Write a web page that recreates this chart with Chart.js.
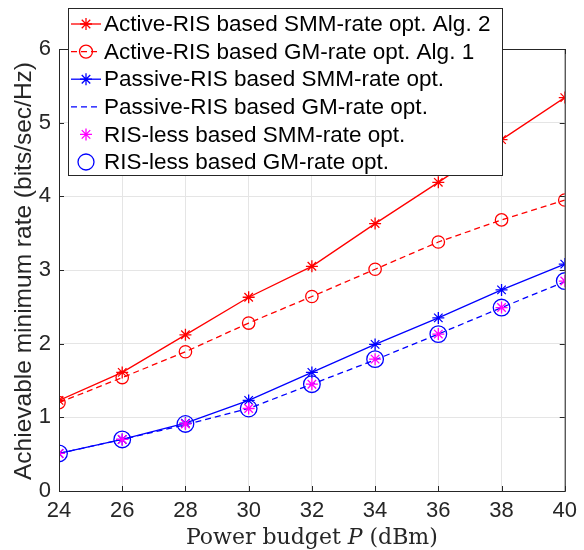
<!DOCTYPE html>
<html>
<head>
<meta charset="utf-8">
<script src="https://cdn.jsdelivr.net/npm/chart.js@4"></script>
<style>
  html, body { margin: 0; padding: 0; background: #fff; }
  #wrap { position: relative; width: 584px; height: 550px; }
</style>
</head>
<body>
<div id="wrap"><canvas id="chart" width="584" height="550"></canvas></div>
<script>
// power budget P (dBm)
const powerDbm = [24, 26, 28, 30, 32, 34, 36, 38, 40];
// achievable minimum rate (bits/sec/Hz)
const activeSmm  = [1.23, 1.61, 2.12, 2.63, 3.05, 3.63, 4.19, 4.77, 5.34];
const activeGm   = [1.20, 1.54, 1.89, 2.28, 2.64, 3.01, 3.38, 3.68, 3.95];
const passiveSmm = [0.51, 0.70, 0.92, 1.23, 1.61, 1.99, 2.35, 2.73, 3.08];
const passiveGm  = [0.51, 0.70, 0.90, 1.12, 1.45, 1.78, 2.13, 2.49, 2.84];
const rislessSmm = [0.51, 0.70, 0.91, 1.12, 1.45, 1.79, 2.13, 2.49, 2.85];
const rislessGm  = [0.51, 0.70, 0.91, 1.12, 1.45, 1.79, 2.13, 2.49, 2.85];
const labels = [
  'Active-RIS based SMM-rate opt. Alg. 2',
  'Active-RIS based GM-rate opt. Alg. 1',
  'Passive-RIS based SMM-rate opt.',
  'Passive-RIS based GM-rate opt.',
  'RIS-less based SMM-rate opt.',
  'RIS-less based GM-rate opt.'
];
const xTicks = [24, 26, 28, 30, 32, 34, 36, 38, 40];
const yTicks = [0, 1, 2, 3, 4, 5, 6];

const RED = '#ff0000', BLUE = '#0000ff', MAG = '#ff00ff';
const DASH = [6, 4];
const SANS = '"Liberation Sans", Arial, sans-serif';
const SERIF = '"DejaVu Serif", serif';
const pts = ys => ys.map((y, i) => ({ x: powerDbm[i], y }));

// legend rows carry their own style so the canvas legend can reuse it
const series = [
  { data: activeSmm,  color: RED,  dash: [],   line: true,  marker: 'star',   r: 6,   lr: 6 },
  { data: activeGm,   color: RED,  dash: DASH, line: true,  marker: 'circle', r: 6.2, lr: 6.5 },
  { data: passiveSmm, color: BLUE, dash: [],   line: true,  marker: 'star',   r: 6,   lr: 6 },
  { data: passiveGm,  color: BLUE, dash: DASH, line: true,  marker: null,     r: 0,   lr: 0 },
  { data: rislessSmm, color: MAG,  dash: [],   line: false, marker: 'star',   r: 6,   lr: 6 },
  { data: rislessGm,  color: BLUE, dash: [],   line: false, marker: 'circle', r: 8.3, lr: 8 }
];

const datasets = series.map((s, i) => ({
  label: labels[i],
  data: pts(s.data),
  borderColor: s.color,
  backgroundColor: 'rgba(0,0,0,0)',
  borderWidth: 1.3,
  borderDash: s.dash,
  showLine: s.line,
  pointStyle: s.marker || 'circle',
  pointRadius: s.r,
  pointBorderColor: s.color,
  pointBackgroundColor: 'rgba(0,0,0,0)',
  pointBorderWidth: 1.3,
  tension: 0,
  order: [6, 5, 4, 3, 1, 2][i]
}));

function drawMarker(ctx, type, x, y, r, color){
  ctx.save();
  ctx.strokeStyle = color; ctx.lineWidth = 1.3; ctx.setLineDash([]);
  ctx.beginPath();
  if(type === 'circle'){
    ctx.arc(x, y, r, 0, Math.PI * 2);
  } else if(type === 'star'){
    for(let k = 0; k < 4; k++){
      const a = k * Math.PI / 4;
      ctx.moveTo(x - r * Math.cos(a), y - r * Math.sin(a));
      ctx.lineTo(x + r * Math.cos(a), y + r * Math.sin(a));
    }
  }
  ctx.stroke();
  ctx.restore();
}

const frame = {
  id: 'frame',
  afterDatasetsDraw(chart){
    const { ctx, chartArea: a, scales } = chart;
    ctx.save();
    // axes box with inward ticks
    ctx.strokeStyle = '#262626'; ctx.lineWidth = 1;
    ctx.strokeRect(a.left + 0.5, a.top + 0.5, a.right - a.left, a.bottom - a.top);
    ctx.beginPath();
    xTicks.forEach(v => {
      const x = Math.round(scales.x.getPixelForValue(v)) + 0.5;
      ctx.moveTo(x, a.bottom); ctx.lineTo(x, a.bottom - 5);
      ctx.moveTo(x, a.top); ctx.lineTo(x, a.top + 5);
    });
    yTicks.forEach(v => {
      const y = Math.round(scales.y.getPixelForValue(v)) + 0.5;
      ctx.moveTo(a.left, y); ctx.lineTo(a.left + 5, y);
      ctx.moveTo(a.right, y); ctx.lineTo(a.right - 5, y);
    });
    ctx.stroke();

    // axis titles
    ctx.fillStyle = '#262626';
    ctx.textBaseline = 'alphabetic';
    ctx.textAlign = 'center';
    ctx.save();
    ctx.translate(31, (a.top + a.bottom) / 2 + 1);
    ctx.rotate(-Math.PI / 2);
    ctx.font = '24.5px ' + SANS;
    ctx.fillText('Achievable minimum rate (bits/sec/Hz)', 0, 0);
    ctx.restore();

    const parts = [
      ['Power budget ', '22px ' + SERIF],
      ['P', 'italic 22px ' + SERIF],
      [' (dBm)', '22px ' + SERIF]
    ];
    let total = 0;
    parts.forEach(p => { ctx.font = p[1]; total += ctx.measureText(p[0]).width; });
    let tx = (a.left + a.right) / 2 - total / 2;
    ctx.textAlign = 'left';
    parts.forEach(p => { ctx.font = p[1]; ctx.fillText(p[0], tx, 544); tx += ctx.measureText(p[0]).width; });

    // legend
    const L = { x: 68, y: 8, w: 434, h: 167, row: 27.6 };
    ctx.fillStyle = '#fff';
    ctx.fillRect(L.x, L.y, L.w, L.h);
    ctx.strokeStyle = '#262626'; ctx.lineWidth = 1;
    ctx.strokeRect(L.x + 0.5, L.y + 0.5, L.w, L.h);
    ctx.font = '22.5px ' + SANS;
    ctx.textBaseline = 'middle';
    series.forEach((s, i) => {
      const cy = L.y + 16 + i * L.row;
      if(s.line){
        ctx.beginPath();
        ctx.strokeStyle = s.color; ctx.lineWidth = 1.3;
        ctx.setLineDash(s.dash);
        ctx.moveTo(71, cy); ctx.lineTo(101, cy);
        ctx.stroke();
        ctx.setLineDash([]);
      }
      if(s.marker) drawMarker(ctx, s.marker, 86, cy, s.lr, s.color);
      ctx.fillStyle = '#000';
      ctx.fillText(labels[i], 104, cy + 1);
    });
    ctx.restore();
  }
};

new Chart(document.getElementById('chart'), {
  type: 'scatter',
  data: { datasets },
  plugins: [frame],
  options: {
    responsive: false,
    animation: false,
    events: [],
    layout: { padding: { left: 0, right: 16, top: 49, bottom: 0 } },
    plugins: { legend: { display: false }, tooltip: { enabled: false } },
    scales: {
      x: {
        type: 'linear', min: 24, max: 40,
        afterBuildTicks: s => { s.ticks = xTicks.map(v => ({ value: v })); },
        afterFit: s => { s.height = 59; },
        grid: { color: '#e5e5e5', drawTicks: false },
        border: { display: false },
        ticks: { color: '#262626', padding: 7, font: { size: 22, family: SANS }, maxRotation: 0 }
      },
      y: {
        min: 0, max: 6,
        afterBuildTicks: s => { s.ticks = yTicks.map(v => ({ value: v })); },
        afterFit: s => { s.width = 59; },
        grid: { color: '#e5e5e5', drawTicks: false },
        border: { display: false },
        ticks: { color: '#262626', padding: 8, font: { size: 22, family: SANS } }
      }
    }
  }
});
</script>
</body>
</html>
